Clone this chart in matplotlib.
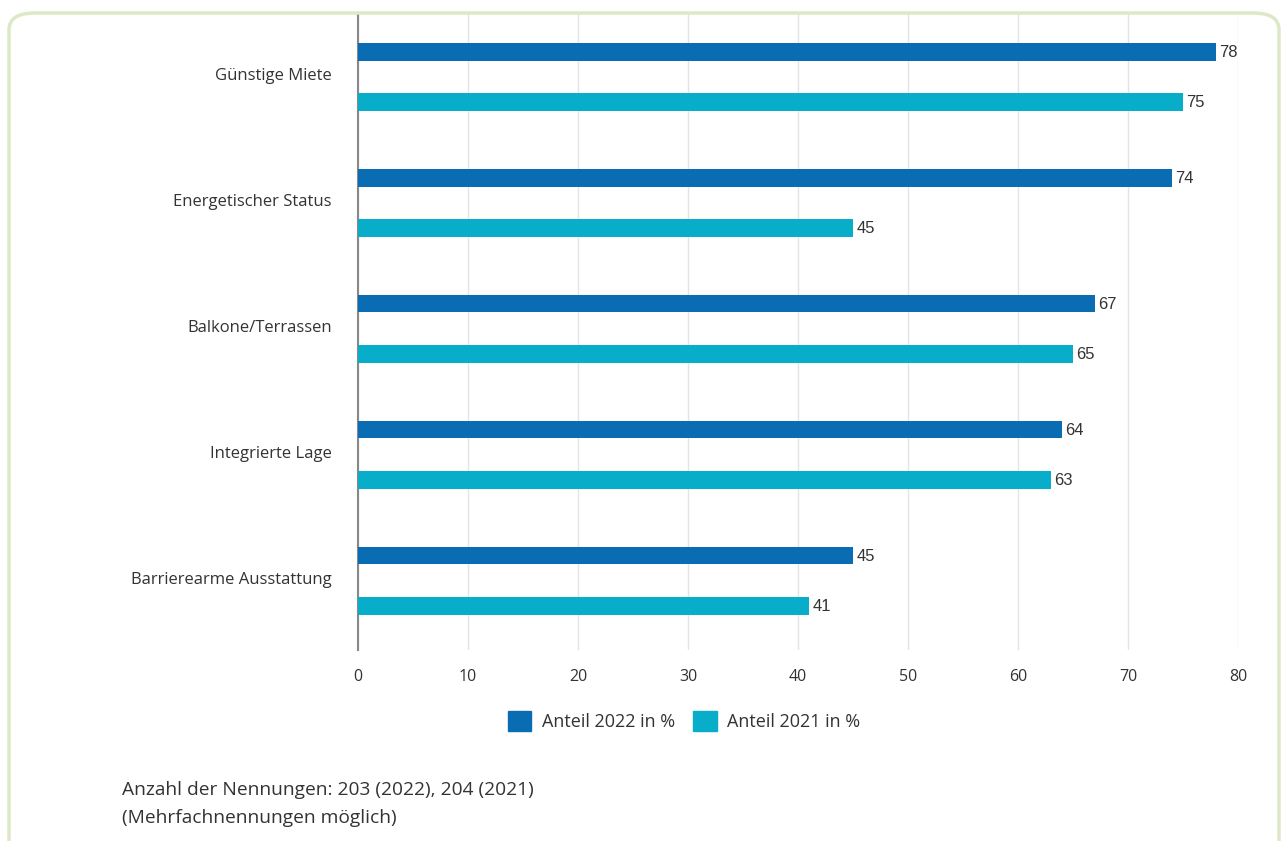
import matplotlib
matplotlib.use("Agg")
import matplotlib.pyplot as plt
from matplotlib.patches import FancyBboxPatch, Patch

categories = ["Günstige Miete", "Energetischer Status", "Balkone/Terrassen",
              "Integrierte Lage", "Barrierearme Ausstattung"]
values_2022 = [78, 74, 67, 64, 45]
values_2021 = [75, 45, 65, 63, 41]
series_labels = ["Anteil 2022 in %", "Anteil 2021 in %"]
xticks = [0, 10, 20, 30, 40, 50, 60, 70, 80]
footnote = ["Anzahl der Nennungen: 203 (2022), 204 (2021)", "(Mehrfachnennungen möglich)"]

c2022 = "#0a6db4"
c2021 = "#08adc9"
txt = "#333333"

W, H = 1287, 841
fig = plt.figure(figsize=(W / 100, H / 100), dpi=100)
fig.patch.set_facecolor("white")

# rounded border
border = FancyBboxPatch((9 / W, -0.05), (1279 - 9) / W, (1 - 13 / H) + 0.05,
                        boxstyle="round,pad=0,rounding_size=0.02",
                        transform=fig.transFigure, fill=False,
                        edgecolor="#dde9c6", linewidth=2.5, clip_on=False)
fig.patches.append(border)

ax = fig.add_axes([358 / W, 1 - 650 / H, (1238 - 358) / W, (650 - 14) / H])
ax.set_facecolor("none")

ypos = list(range(len(categories)))
off = 0.2
h = 0.14
b1 = ax.barh([y - off for y in ypos], values_2022, height=h, color=c2022, zorder=3)
b2 = ax.barh([y + off for y in ypos], values_2021, height=h, color=c2021, zorder=3)

for bars, vals in ((b1, values_2022), (b2, values_2021)):
    for bar, v in zip(bars, vals):
        ax.text(bar.get_width() + 0.3, bar.get_y() + bar.get_height() / 2 + 0.005, str(v),
                va="center", ha="left", fontsize=12, color=txt,
                family="Liberation Sans")

ax.set_xlim(0, 80)
ax.set_ylim(4.55, -0.5)
ax.set_xticks(xticks)
ax.set_xticklabels([str(t) for t in xticks], fontsize=11.5, color=txt, family="Open Sans")
ax.set_yticks([y - 0.02 for y in ypos])
ax.set_yticklabels(categories, fontsize=12, color=txt, family="Open Sans")
ax.tick_params(axis="y", length=0, pad=19)
ax.tick_params(axis="x", length=0, pad=14)
ax.grid(axis="x", color="#e4e4e4", linewidth=1, zorder=0)
for s in ["top", "right", "bottom"]:
    ax.spines[s].set_visible(False)
ax.spines["left"].set_color("#888888")
ax.spines["left"].set_linewidth(1.5)

handles = [Patch(color=c2022), Patch(color=c2021)]
fig.legend(handles, series_labels, loc="center", bbox_to_anchor=(684 / W, 1 - 721 / H),
           ncol=2, frameon=False, handlelength=1.3, handleheight=1.4,
           columnspacing=1.0, handletextpad=0.6, prop={"family": "Open Sans", "size": 13},
           labelcolor=txt)

fig.text(122 / W, 1 - 790 / H, footnote[0], fontsize=13.8, color=txt, va="center",
         family="Open Sans")
fig.text(122 / W, 1 - 818 / H, footnote[1], fontsize=13.8, color=txt, va="center",
         family="Open Sans")

fig.savefig("out.png", dpi=100)
